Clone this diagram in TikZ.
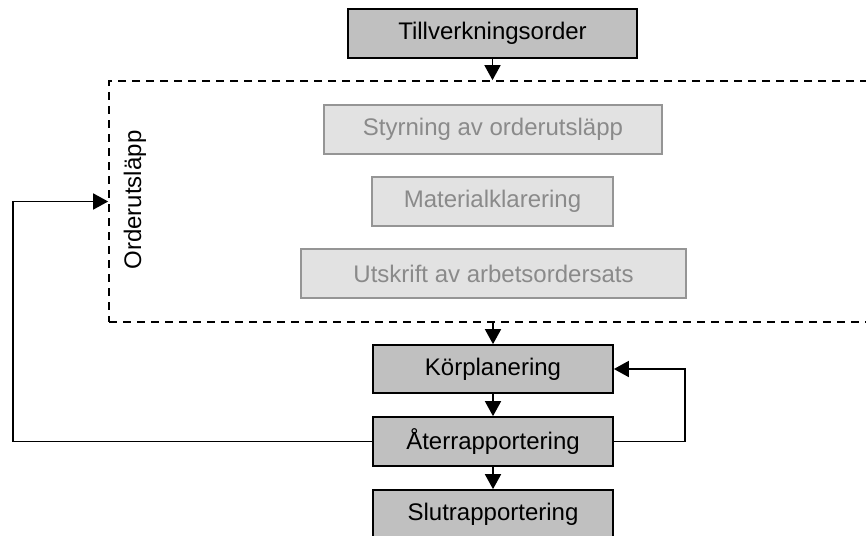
\documentclass[tikz,border=0pt]{standalone}
\usepackage{fontspec}
\setmainfont{Liberation Sans}
\usetikzlibrary{arrows.meta}
\definecolor{boxfill}{HTML}{C0C0C0}
\definecolor{subfill}{HTML}{E2E2E2}
\definecolor{subline}{HTML}{959595}
\definecolor{subtext}{HTML}{8A8A8A}
\begin{document}
\begin{tikzpicture}[x=1pt,y=-1pt,
  font=\fontsize{24}{28}\selectfont,
  stepbox/.style={draw=black, line width=1.7pt, fill=boxfill, rectangle,
    inner sep=0pt, minimum height=49pt, minimum width=240pt, text=black},
  subbox/.style={draw=subline, line width=1.7pt, fill=subfill, rectangle,
    inner sep=0pt, minimum height=49pt, text=subtext},
  link/.style={line width=1.7pt, -{Triangle[width=16pt,length=15pt]}}]
  \useasboundingbox (0,0) rectangle (866,535);
  \clip (0,0) rectangle (866,535);

  % order release area (dashed frame running past the right edge)
  \node[draw, dashed, dash pattern=on 8pt off 6pt, line width=1.7pt,
        rectangle, inner sep=0pt, minimum width=791pt, minimum height=241pt]
        (release) at (504.5,201.5) {};
  \node[rotate=90] (releaselabel) at (135,200) {Orderutsläpp};

  % main flow
  \node[stepbox, minimum width=289pt] (order) at (492.5,33.5) {Tillverkningsorder};
  \node[subbox, minimum width=338pt] (control) at (493,129.5) {Styrning av orderutsläpp};
  \node[subbox, minimum width=241pt] (material) at (492.5,201.5) {Materialklarering};
  \node[subbox, minimum width=385pt] (printout) at (493.5,273.5) {Utskrift av arbetsordersats};
  \node[stepbox, minimum height=48pt] (plan) at (493,369) {Körplanering};
  \node[stepbox] (report) at (493,441.5) {Återrapportering};
  \node[stepbox] (final) at (493,514.5) {Slutrapportering};

  \coordinate (rightloop) at (685,0);
  \coordinate (leftloop) at (13,0);

  % connectors
  \draw[link] (order.south) -- (order.south |- release.north);
  \draw[link] (plan.north |- release.south) -- (plan.north);
  \draw[link] (plan.south) -- (report.north);
  \draw[link] (report.south) -- (final.north);
  \draw[link] (report.east) -- (report.east -| rightloop) |- (plan.east);
  \draw[link] (report.west) -- (report.west -| leftloop) |- (release.west);
\end{tikzpicture}
\end{document}
